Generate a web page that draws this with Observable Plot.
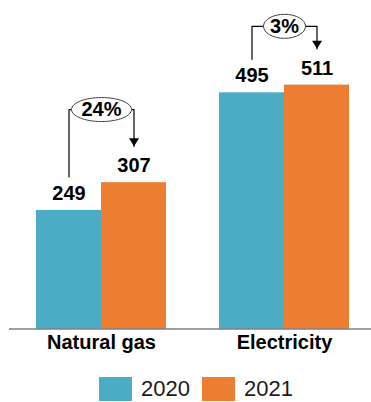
<!DOCTYPE html>
<html>
<head>
<meta charset="utf-8">
<script src="https://cdn.jsdelivr.net/npm/d3@7"></script>
<script src="https://cdn.jsdelivr.net/npm/@observablehq/plot@0.6"></script>
<style>
  body { margin: 0; background: #fff; }
  #chart { width: 371px; }
  .legend { display: flex; align-items: center; margin: 12px 0 0 99px; height: 24px;
            font: 22px "Liberation Sans", Arial, sans-serif; color: #1a1a1a; }
  .legend .sw { width: 33px; height: 24px; }
  .legend .lb { margin: 0 12px 0 9px; line-height: 24px; }
</style>
</head>
<body>
<div id="chart"></div>
<script>
// Energy consumption by source, 2020 vs 2021
const categories = ["Natural gas", "Electricity"];
const years = ["2020", "2021"];
const values2020 = [249, 495];
const values2021 = [307, 511];
const changeLabels = ["24%", "3%"];
const colors = ["#4BACC6", "#ED7D31"];

// Long-format rows for the bars
const rows = categories.flatMap((c, i) => [
  {category: c, year: years[0], value: values2020[i]},
  {category: c, year: years[1], value: values2021[i]}
]);

// Layout of the change brackets (in y units above the bars)
const legGap = 70, tipGap = 76;
const bracketRise = {"Natural gas": 153, "Electricity": 123};
const ovalRx = {"Natural gas": 30, "Electricity": 21};

const notes = categories.map((c, i) => ({
  category: c,
  label: changeLabels[i],
  top: Math.max(values2020[i], values2021[i]) + bracketRise[c],
  start: values2020[i] + legGap,
  tip: values2021[i] + tipGap
}));
const bracketPts = notes.flatMap(n => [
  {category: n.category, year: years[0], y: n.start},
  {category: n.category, year: years[0], y: n.top},
  {category: n.category, year: years[1], y: n.top},
  {category: n.category, year: years[1], y: n.tip}
]);

// Custom symbols: down-pointing arrow head (apex at origin) and an oval
const arrowHead = {draw(ctx) { ctx.moveTo(-5, -8); ctx.lineTo(5, -8); ctx.lineTo(0, 0); ctx.closePath(); }};
const oval = (rx, ry) => ({draw(ctx) {
  const k = 0.5523;
  ctx.moveTo(rx, 0);
  ctx.bezierCurveTo(rx, ry * k, rx * k, ry, 0, ry);
  ctx.bezierCurveTo(-rx * k, ry, -rx, ry * k, -rx, 0);
  ctx.bezierCurveTo(-rx, -ry * k, -rx * k, -ry, 0, -ry);
  ctx.bezierCurveTo(rx * k, -ry, rx, -ry * k, rx, 0);
  ctx.closePath();
}});

const font = "Liberation Sans, Arial, sans-serif";
const W = 371, H = 365, mL = 9, mR = 0, mB = 36;

const plot = Plot.plot({
  width: W,
  height: H,
  marginTop: 0,
  marginBottom: mB,
  marginLeft: mL,
  marginRight: mR,
  style: {fontFamily: font, background: "#fff", overflow: "visible"},
  fx: {domain: categories, paddingInner: 0.289, paddingOuter: 0.131, align: 0.5625, axis: null, label: null},
  x: {domain: years, padding: 0, axis: null, label: null},
  y: {domain: [0, 688], axis: null, label: null},
  color: {domain: years, range: colors},
  marks: [
    Plot.barY(rows, {fx: "category", x: "year", y: "value", fill: "year"}),
    Plot.text(rows, {fx: "category", x: "year", y: "value", text: d => String(d.value),
      dy: -17, fontSize: 20, fontWeight: "bold", fill: "#000"}),
    Plot.text(categories, {fx: d => d, text: d => d, frameAnchor: "bottom", dy: 19,
      fontSize: 20, fontWeight: "bold", fill: "#000"}),
    Plot.line(bracketPts, {fx: "category", x: "year", y: "y", z: "category", stroke: "#000", strokeWidth: 1.2}),
    Plot.dot(notes, {fx: "category", x: () => years[1], y: "tip", symbol: arrowHead, r: 5, fill: "#000", stroke: null}),
    ...notes.map(n => Plot.dot([n], {fx: "category", y: "top", symbol: oval(ovalRx[n.category], 12),
      r: 10, fill: "#fff", stroke: "#404040", strokeWidth: 1})),
    Plot.text(notes, {fx: "category", y: "top", text: "label", fontSize: 20, fontWeight: "bold", fill: "#000"})
  ]
});
document.getElementById("chart").appendChild(plot);

// Category axis baseline across the full width, at y = 0
const y0 = plot.scale("y").apply(0);
d3.select(plot).append("line")
  .attr("x1", mL).attr("x2", W - mR)
  .attr("y1", y0).attr("y2", y0)
  .attr("stroke", "#808080").attr("stroke-width", 1.5);

// Legend
const legend = document.createElement("div");
legend.className = "legend";
years.forEach((y, i) => {
  const sw = document.createElement("div");
  sw.className = "sw";
  sw.style.background = colors[i];
  const lb = document.createElement("span");
  lb.className = "lb";
  lb.textContent = y;
  legend.append(sw, lb);
});
document.body.appendChild(legend);
</script>
</body>
</html>
